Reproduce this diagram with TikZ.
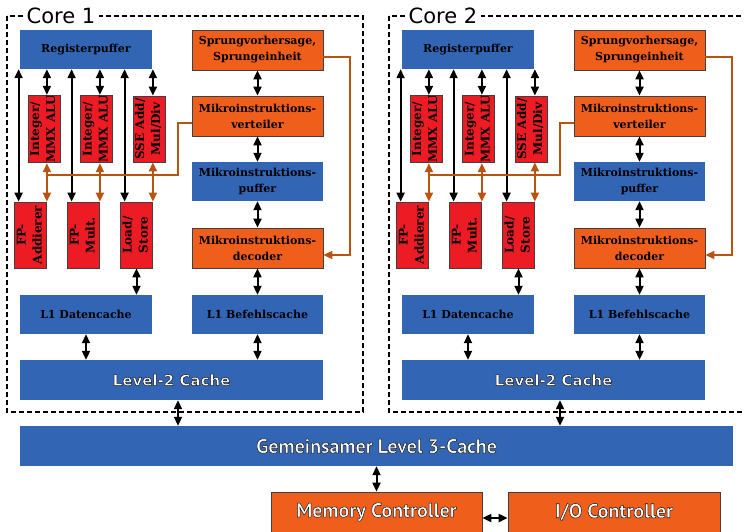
\documentclass[tikz,border=0pt]{standalone}
\usepackage{fontspec}
\usepackage{graphicx}
\usetikzlibrary{arrows.meta}
\setmainfont{DejaVu Serif}
\newfontfamily\bigfont{DejaVu Sans}
\newfontfamily\ctrlfont{PT Sans}
\definecolor{cpublue}{HTML}{3365B5}
\definecolor{cpuorange}{HTML}{F05E1C}
\definecolor{cpured}{HTML}{ED1C24}
\definecolor{cpubrown}{HTML}{B8540F}
\newcommand\whalo[1]{\textcolor{white}{\special{pdf:literal direct 2 Tr 0.5 w 0.1 0.1 0.1 RG}#1\special{pdf:literal direct 0 Tr}}}
\newcommand\twoline[2]{\rotatebox{90}{\fontsize{12}{16}\selectfont\begin{tabular}{@{}c@{}}#1\\#2\end{tabular}}}
\newcommand\lblfont{\fontsize{11}{16}\selectfont\bfseries}
\newcommand\ctrlsize{\ctrlfont\bfseries\fontsize{20}{20}\selectfont}
\begin{document}
\begin{tikzpicture}[x=1pt,y=-1pt,
  box/.style={rectangle,inner sep=0pt,align=center,font=\lblfont},
  bluebox/.style={box,fill=cpublue},
  orbox/.style={box,fill=cpuorange,draw=black!75,line width=0.8pt},
  redbox/.style={box,fill=cpured,draw=black!75,line width=0.8pt},
  arr/.style={line width=2pt,{Triangle[length=9pt,width=8pt]}-{Triangle[length=9pt,width=8pt]}},
  oarr/.style={arr,cpubrown},
  bus/.style={cpubrown,line width=1.8pt},
  frame/.style={line width=1.8pt,dash pattern=on 5pt off 3pt}]
\useasboundingbox (0,0) rectangle (744,531);
\clip (0,0) rectangle (744,531);
\node[bluebox,minimum width=713pt,minimum height=40pt,font=\ctrlsize] (l3) at (376.5,446) {\whalo{Gemeinsamer Level 3-Cache}};
\node[orbox,minimum width=211pt,minimum height=40pt,font=\ctrlsize] (mc) at (376.5,512) {\whalo{Memory Controller}};
\node[orbox,minimum width=212pt,minimum height=40pt,font=\ctrlsize] (io) at (614,512) {\whalo{I/O Controller}};
\draw[arr] (l3) -- (mc);
\draw[arr] ([yshift=-6pt]mc.east) -- ([yshift=-6pt]io.west);
% zwei Kerne
\foreach \c/\dx in {1/0,2/382}{
\begin{scope}[xshift=\dx pt]
\draw[frame] (7,16) rectangle (363,412);
\node[fill=white,inner xsep=4pt,inner ysep=0pt,font=\bigfont\fontsize{21}{21}\selectfont] (core\c) at (61,16) {Core \c};
\node[bluebox,minimum width=132pt,minimum height=39pt] (reg\c) at (86,49.5) {Registerpuffer};
\node[orbox,minimum width=131pt,minimum height=40pt] (spr\c) at (257.5,50) {Sprungvorhersage,\\Sprungeinheit};
\node[orbox,minimum width=131pt,minimum height=40pt] (vert\c) at (257.5,116) {Mikroinstruktions-\\verteiler};
\node[bluebox,minimum width=131pt,minimum height=39pt] (mpuf\c) at (257.5,181.5) {Mikroinstruktions-\\puffer};
\node[orbox,minimum width=131pt,minimum height=40pt] (dec\c) at (257.5,248) {Mikroinstruktions-\\decoder};
\node[redbox,minimum width=32pt,minimum height=66pt] (alua\c) at (44,129) {\twoline{Integer/}{MMX ALU}};
\node[redbox,minimum width=32pt,minimum height=66pt] (alub\c) at (96.5,129) {\twoline{Integer/}{MMX ALU}};
\node[redbox,minimum width=32pt,minimum height=66pt] (sse\c) at (149,129) {\twoline{SSE Add/}{Mul/Div}};
\node[redbox,minimum width=31pt,minimum height=66pt] (fpadd\c) at (30.5,235) {\twoline{FP-}{Addierer}};
\node[redbox,minimum width=31pt,minimum height=66pt] (fpmul\c) at (83.5,235) {\twoline{FP-}{Mult.}};
\node[redbox,minimum width=31pt,minimum height=66pt] (ls\c) at (136.5,235) {\twoline{Load/}{Store}};
\node[bluebox,minimum width=132pt,minimum height=39pt] (l1d\c) at (86,314.5) {L1 Datencache};
\node[bluebox,minimum width=131pt,minimum height=39pt] (l1i\c) at (257.5,314.5) {L1 Befehlscache};
\node[bluebox,minimum width=303pt,minimum height=40pt,font=\bigfont\bfseries\fontsize{15}{15}\selectfont] (l2\c) at (171.5,380) {\whalo{Level-2 Cache}};
% Verbindungen
\draw[arr] (spr\c) -- (vert\c);
\draw[arr] (vert\c) -- (mpuf\c);
\draw[arr] (mpuf\c) -- (dec\c);
\draw[arr] (dec\c) -- (l1i\c);
\draw[arr] (ls\c.south) -- (ls\c.south |- l1d\c.north);
\draw[arr] (l1d\c.south) -- (l1d\c.south |- l2\c.north);
\draw[arr] (l1i\c.south) -- (l1i\c.south |- l2\c.north);
\coordinate (l2b\c) at ([xshift=6.5pt]l2\c.south);
\draw[arr] (l2b\c) -- (l2b\c |- l3.north);
\foreach \u in {fpadd,fpmul,ls}{
\coordinate (\u top\c) at ([xshift=4.5pt]\u\c.north west);
\draw[arr] (reg\c.south -| \u top\c) -- (\u top\c);
}
\coordinate (bus\c) at (178,175);
\draw[bus] ([yshift=-7pt]vert\c.west) -| (bus\c) -- (bus\c -| fpadd\c.east);
\foreach \a/\u in {alua/fpadd,alub/fpmul,sse/ls}{
\draw[arr] (reg\c.south -| \u\c.east) -- (\a\c.north -| \u\c.east);
\draw[oarr] (\a\c.south -| \u\c.east) -- (\u\c.north east);
}
\coordinate (rt\c) at (350,255);
\draw[bus,-{Triangle[length=9pt,width=8pt]}] ([yshift=-7pt]spr\c.east) -| (rt\c) -- ([yshift=-7pt]dec\c.east);
\end{scope}
}
\end{tikzpicture}
\end{document}
